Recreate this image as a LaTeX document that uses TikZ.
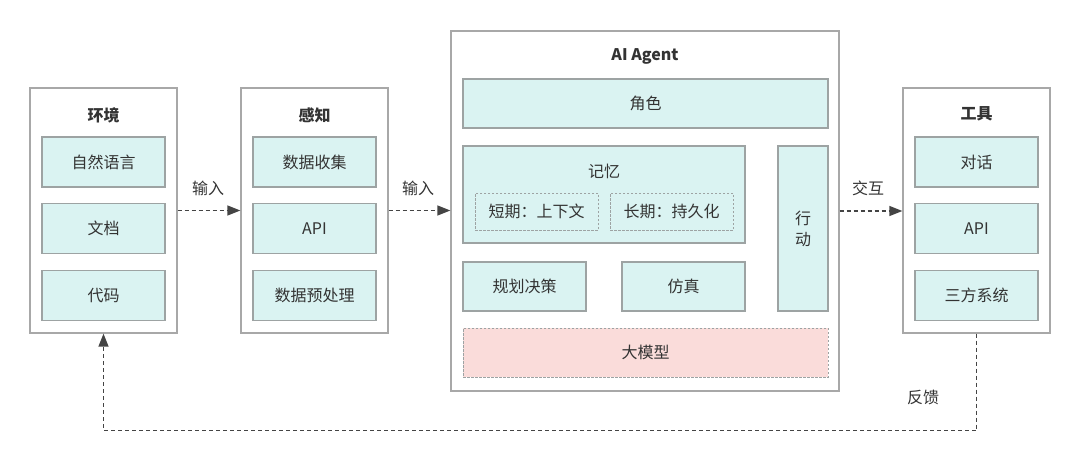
\documentclass[tikz,border=0pt]{standalone}
\usepackage{fontspec}
\setmainfont{Noto Sans CJK SC}
\usetikzlibrary{arrows.meta}
\definecolor{cyanfill}{HTML}{DAF3F2}
\definecolor{pinkfill}{HTML}{FADCDA}
\definecolor{outgray}{HTML}{A8A8A8}
\definecolor{ingray}{HTML}{9DA3A3}
\definecolor{txt}{HTML}{333333}
\definecolor{arrowgray}{HTML}{444444}
\newcommand{\fsz}{\fontsize{16}{20}\selectfont}
\begin{document}
\begin{tikzpicture}[x=1pt,y=-1pt,
  outerbox/.style={draw=outgray, line width=1.2pt, fill=white, inner sep=0pt},
  inbox/.style={draw=ingray, line width=1.2pt, fill=cyanfill, inner sep=0pt, text=txt, font=\fsz},
  dbox/.style={draw=ingray, line width=0.9pt, dash pattern=on 2.5pt off 1.5pt, inner sep=0pt, text=txt, font=\fsz},
  pbox/.style={draw=ingray, line width=0.9pt, dash pattern=on 2.5pt off 1.5pt, fill=pinkfill, inner sep=0pt, text=txt, font=\fsz},
  ttl/.style={text=txt, font=\fsz\bfseries, inner sep=0pt},
  lbl/.style={text=txt, font=\fsz, inner sep=0pt},
  darrow/.style={draw=arrowgray, line width=1.3pt, dash pattern=on 4pt off 3pt, -{Triangle[length=13pt,width=10pt,fill=arrowgray]}}
]
\useasboundingbox (0,0) rectangle (1080,461);

% outer boxes
\node[outerbox, minimum width=147, minimum height=245] (env) at (103.5,210.5) {};
\node[outerbox, minimum width=147, minimum height=245] (perc) at (314.5,210.5) {};
\node[outerbox, minimum width=388, minimum height=360] (agent) at (645,211) {};
\node[outerbox, minimum width=147, minimum height=245] (tool) at (976.5,210.5) {};

% titles
\node[ttl] (envt) at (103.5,115) {环境};
\node[ttl] (perct) at (314.5,115) {感知};
\node[ttl] (agentt) at (645,56) {AI Agent};
\node[ttl] (toolt) at (976.5,114) {工具};

% env items
\node[inbox, minimum width=123, minimum height=50] (e1) at (103.5,162) {自然语言};
\node[inbox, minimum width=123, minimum height=50] (e2) at (103.5,228.5) {文档};
\node[inbox, minimum width=123, minimum height=50] (e3) at (103.5,295.5) {代码};

% perception items
\node[inbox, minimum width=123, minimum height=50] (p1) at (314.5,162) {数据收集};
\node[inbox, minimum width=123, minimum height=50] (p2) at (314.5,228.5) {API};
\node[inbox, minimum width=123, minimum height=50] (p3) at (314.5,295.5) {数据预处理};

% tool items
\node[inbox, minimum width=123, minimum height=50] (t1) at (976.5,162) {对话};
\node[inbox, minimum width=123, minimum height=50] (t2) at (976.5,228.5) {API};
\node[inbox, minimum width=123, minimum height=50] (t3) at (976.5,295.5) {三方系统};

% agent items
\node[inbox, minimum width=365, minimum height=49] (role) at (645.5,103.5) {角色};
\node[inbox, minimum width=282, minimum height=97] (mem) at (604,194.5) {};
\node[lbl] (memt) at (604,171) {记忆};
\node[dbox, minimum width=123, minimum height=37] (short) at (536.5,211.5) {短期：上下文};
\node[dbox, minimum width=123, minimum height=37] (long) at (671.5,211.5) {长期：持久化};
\node[inbox, minimum width=50, minimum height=165, align=center, font=\fontsize{16}{21}\selectfont] (act) at (803,228.5) {行\\动};
\node[inbox, minimum width=123, minimum height=49] (plan) at (524.5,286.5) {规划决策};
\node[inbox, minimum width=123, minimum height=49] (sim) at (683.5,286.5) {仿真};
\node[pbox, minimum width=365, minimum height=49] (llm) at (645.5,352.5) {大模型};

% connectors
\draw[darrow] (env.east) -- (perc.west);
\draw[darrow] (perc.east) -- (perc.east -| agent.west);
\draw[darrow] (agent.east) -- (agent.east -| tool.west);
\draw[darrow] (tool.south) -- ++(0,97) -| (env.south);

% labels
\node[lbl] (l1) at (208,188) {输入};
\node[lbl] (l2) at (418,188) {输入};
\node[lbl] (l3) at (868,188) {交互};
\node[lbl] (l4) at (923,397) {反馈};
\end{tikzpicture}
\end{document}
